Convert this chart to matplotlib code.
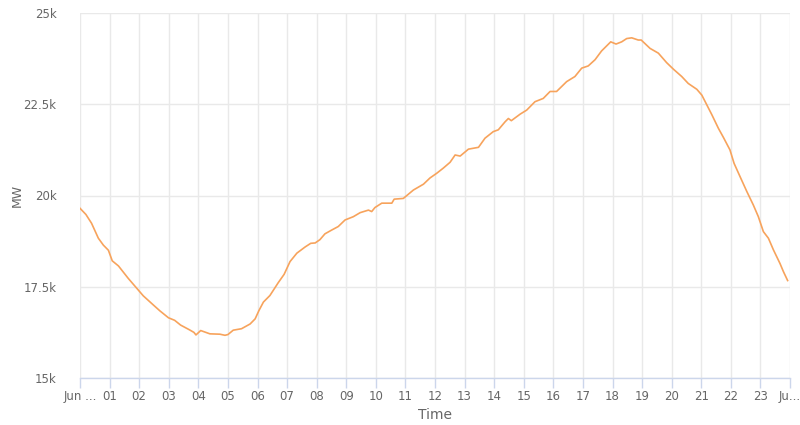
#!/usr/bin/env python3

import matplotlib
matplotlib.use('Agg')
import matplotlib.pyplot as plt
from matplotlib.ticker import FixedLocator, FuncFormatter

# time of day in hours, load in MW
hours = [
    0.00, 0.20, 0.39, 0.62, 0.79, 0.96, 1.09, 1.30, 1.63, 1.97,
    2.14, 2.48, 2.70, 2.99, 3.20, 3.40, 3.70, 3.85, 3.92, 4.08,
    4.39, 4.73, 4.90, 5.00, 5.18, 5.46, 5.75, 5.92, 6.05, 6.20,
    6.42, 6.70, 6.90, 7.10, 7.33, 7.61, 7.80, 7.95, 8.11, 8.28,
    8.50, 8.73, 8.96, 9.24, 9.47, 9.75, 9.86, 9.97, 10.20, 10.54,
    10.62, 10.93, 11.27, 11.61, 11.83, 12.06, 12.28, 12.51, 12.68, 12.85,
    13.13, 13.47, 13.69, 13.97, 14.14, 14.37, 14.48, 14.58, 14.88, 15.10,
    15.38, 15.66, 15.89, 16.11, 16.45, 16.73, 16.96, 17.18, 17.41, 17.63,
    17.94, 18.12, 18.31, 18.48, 18.65, 18.87, 18.97, 19.27, 19.55, 19.83,
    20.06, 20.34, 20.56, 20.85, 21.02, 21.19, 21.36, 21.58, 21.75, 21.97,
    22.11, 22.31, 22.54, 22.76, 22.93, 23.10, 23.27, 23.44, 23.66, 23.78,
    23.92,
]
load_mw = [
    19650, 19480, 19240, 18830, 18640, 18500, 18210, 18070, 17730, 17410,
    17250, 17000, 16840, 16650, 16580, 16450, 16320, 16250, 16180, 16300,
    16210, 16200, 16170, 16190, 16310, 16350, 16480, 16620, 16850, 17080,
    17260, 17610, 17840, 18190, 18420, 18590, 18690, 18700, 18790, 18950,
    19050, 19150, 19330, 19420, 19530, 19600, 19560, 19670, 19790, 19790,
    19900, 19920, 20150, 20310, 20480, 20610, 20750, 20910, 21110, 21080,
    21270, 21320, 21570, 21750, 21800, 22020, 22110, 22050, 22230, 22340,
    22570, 22660, 22850, 22850, 23120, 23260, 23490, 23550, 23720, 23960,
    24210, 24150, 24210, 24300, 24320, 24260, 24260, 24030, 23900, 23640,
    23460, 23260, 23070, 22910, 22750, 22480, 22210, 21840, 21590, 21250,
    20880, 20520, 20110, 19740, 19420, 19010, 18830, 18510, 18140, 17910,
    17670,
]

x_ticks = list(range(0, 25))
x_labels = ['Jun ...'] + ['%02d' % h for h in range(1, 24)] + ['Ju...']
y_ticks = [15000, 17500, 20000, 22500, 25000]

text_col = '#666666'
grid_col = '#e9e9e9'
axis_col = '#ccd6eb'

plt.rcParams['font.family'] = ['DejaVu Sans']

fig = plt.figure(figsize=(8, 4.25), dpi=100)
ax = fig.add_axes([0.1, 0.1106, 0.8875, 0.8588])

ax.plot(hours, load_mw, color='#f7a35c', linewidth=1.2, zorder=3)

ax.set_xlim(0, 24)
ax.set_ylim(15000, 25000)
ax.xaxis.set_major_locator(FixedLocator(x_ticks))
ax.set_xticklabels(x_labels)
ax.yaxis.set_major_locator(FixedLocator(y_ticks))
ax.yaxis.set_major_formatter(FuncFormatter(lambda v, p: ('%g' % (v / 1000)) + 'k'))

ax.grid(True, color=grid_col, linewidth=1, zorder=0)
for s in ['top', 'right', 'left']:
    ax.spines[s].set_visible(False)
ax.spines['bottom'].set_color(axis_col)
ax.spines['bottom'].set_linewidth(1)

ax.tick_params(axis='x', colors=axis_col, labelcolor=text_col, length=7,
               width=1, labelsize=8.5, pad=2)
ax.tick_params(axis='y', length=0, labelcolor=text_col, labelsize=8.5, pad=17)

ax.set_xlabel('Time', color=text_col, fontsize=10)
ax.set_ylabel('MW', color=text_col, fontsize=9)
ax.xaxis.set_label_coords(0.5, -0.101)
ax.yaxis.set_label_coords(-0.088, 0.5)
ax.xaxis.label.set_va('center')
ax.yaxis.label.set_va('center')

fig.savefig('out.png', dpi=100)
